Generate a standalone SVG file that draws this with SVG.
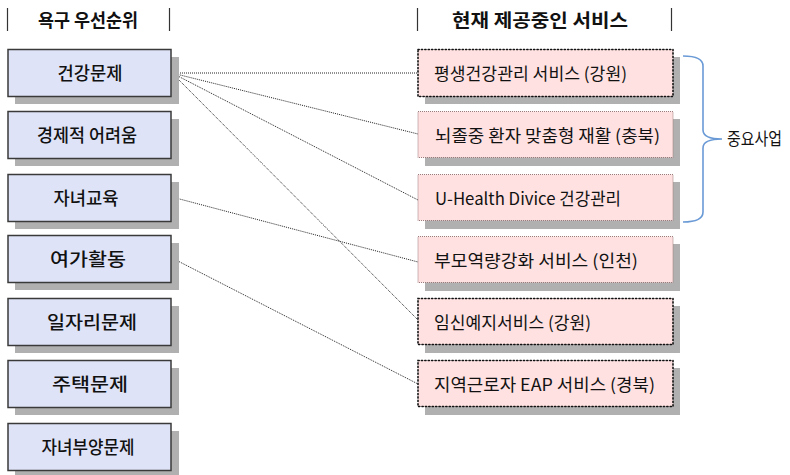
<svg xmlns="http://www.w3.org/2000/svg" width="790" height="475" viewBox="0 0 790 475">
<defs>
<style>
.bg{fill:#ffffff}
.shadow{fill:#b0b0b0}
.lbox{fill:#dfe3f7;stroke:#3a3a3a;stroke-width:1.5}
.rbox{fill:#ffe1e1}
.heavy{stroke:#111;stroke-width:1.6;stroke-dasharray:1.2 2.2;stroke-linecap:round}
.light{stroke:#9a7a7a;stroke-width:1;stroke-dasharray:1 1}
.bar{stroke:#333;stroke-width:1.2}
.hdr{font-family:"Noto Sans CJK KR","Noto Sans",sans-serif;font-size:18px;font-weight:bold;fill:#111}
.lt{font-family:"Noto Sans CJK KR","Noto Sans",sans-serif;font-size:18px;font-weight:500;fill:#111;text-anchor:middle}
.rt{font-family:"Noto Sans CJK KR","Noto Sans",sans-serif;font-size:17px;fill:#111}
.conn{stroke:#222;stroke-width:1;stroke-dasharray:1 1;fill:none}
.brace{stroke:#6a9ad6;stroke-width:1.6;fill:none}
</style>
</defs>
<rect class="bg" x="0" y="0" width="790" height="475"/>

<g id="headers">
<line class="bar" x1="7.5" y1="8" x2="7.5" y2="31"/>
<line class="bar" x1="169.5" y1="8" x2="169.5" y2="31"/>
<text class="hdr" x="88" y="26.5" text-anchor="middle" textLength="100" lengthAdjust="spacingAndGlyphs">욕구 우선순위</text>
<line class="bar" x1="417.5" y1="8" x2="417.5" y2="31"/>
<line class="bar" x1="671.5" y1="8" x2="671.5" y2="31"/>
<text class="hdr" x="540" y="26.5" text-anchor="middle" textLength="176" lengthAdjust="spacingAndGlyphs">현재  제공중인 서비스</text>
</g>

<g id="connectors">
<line class="conn" x1="172" y1="73" x2="418" y2="73"/>
<line class="conn" x1="172" y1="73" x2="418" y2="134"/>
<line class="conn" x1="172" y1="73" x2="418" y2="200"/>
<line class="conn" x1="172" y1="73" x2="418" y2="320"/>
<line class="conn" x1="172" y1="197" x2="418" y2="262"/>
<line class="conn" x1="172" y1="258" x2="418" y2="384"/>
</g>

<g id="need1"><rect class="shadow" x="15" y="57" width="164" height="47"/><rect class="lbox" x="8" y="49.5" width="163" height="47"/><text class="lt" x="90" y="80" textLength="65" lengthAdjust="spacingAndGlyphs">건강문제</text></g>
<g id="need2"><rect class="shadow" x="15" y="119" width="164" height="47"/><rect class="lbox" x="8" y="111.5" width="163" height="47"/><text class="lt" x="87" y="142" textLength="100" lengthAdjust="spacingAndGlyphs">경제적 어려움</text></g>
<g id="need3"><rect class="shadow" x="15" y="182" width="164" height="47"/><rect class="lbox" x="8" y="174.5" width="163" height="47"/><text class="lt" x="86" y="205" textLength="65" lengthAdjust="spacingAndGlyphs">자녀교육</text></g>
<g id="need4"><rect class="shadow" x="15" y="243" width="164" height="47"/><rect class="lbox" x="8" y="235.5" width="163" height="47"/><text class="lt" x="88" y="266" textLength="76" lengthAdjust="spacingAndGlyphs">여가활동</text></g>
<g id="need5"><rect class="shadow" x="15" y="306" width="164" height="47"/><rect class="lbox" x="8" y="298.5" width="163" height="47"/><text class="lt" x="92" y="329" textLength="90" lengthAdjust="spacingAndGlyphs">일자리문제</text></g>
<g id="need6"><rect class="shadow" x="15" y="368" width="164" height="47"/><rect class="lbox" x="8" y="360.5" width="163" height="47"/><text class="lt" x="90" y="391" textLength="76" lengthAdjust="spacingAndGlyphs">주택문제</text></g>
<g id="need7"><rect class="shadow" x="15" y="431" width="164" height="44"/><rect class="lbox" x="8" y="423.5" width="163" height="47"/><text class="lt" x="88" y="454" textLength="93" lengthAdjust="spacingAndGlyphs">자녀부양문제</text></g>

<g id="svc1"><rect class="shadow" x="425" y="57" width="255" height="47"/><rect class="rbox heavy" x="418" y="49.5" width="255" height="47"/><text class="rt" x="434" y="79.5" textLength="193" lengthAdjust="spacingAndGlyphs">평생건강관리 서비스 (강원)</text></g>
<g id="svc2"><rect class="shadow" x="425" y="119" width="255" height="47"/><rect class="rbox light" x="418" y="111.5" width="255" height="46"/><text class="rt" x="435" y="141.5" textLength="225" lengthAdjust="spacingAndGlyphs">뇌졸중 환자 맞춤형 재활 (충북)</text></g>
<g id="svc3"><rect class="shadow" x="425" y="182" width="255" height="47"/><rect class="rbox light" x="418" y="174.5" width="255" height="46"/><text class="rt" x="435" y="204.5" textLength="186" lengthAdjust="spacingAndGlyphs">U-Health Divice 건강관리</text></g>
<g id="svc4"><rect class="shadow" x="425" y="244" width="255" height="47"/><rect class="rbox light" x="418" y="236.5" width="255" height="46"/><text class="rt" x="434" y="266.5" textLength="204" lengthAdjust="spacingAndGlyphs">부모역량강화 서비스 (인천)</text></g>
<g id="svc5"><rect class="shadow" x="425" y="306" width="255" height="47"/><rect class="rbox heavy" x="418" y="298.5" width="255" height="46"/><text class="rt" x="434" y="328.5" textLength="157" lengthAdjust="spacingAndGlyphs">임신예지서비스 (강원)</text></g>
<g id="svc6"><rect class="shadow" x="425" y="368" width="255" height="47"/><rect class="rbox heavy" x="418" y="360.5" width="255" height="46"/><text class="rt" x="434" y="390.5" textLength="221" lengthAdjust="spacingAndGlyphs">지역근로자 EAP 서비스 (경북)</text></g>

<g id="brace">
<path class="brace" d="M683,56 Q703,56 703,66 L703,130 Q703,139 722,139 Q703,139 703,148 L703,212 Q703,222 683,222"/>
<text class="rt" x="727" y="145" textLength="55" lengthAdjust="spacingAndGlyphs">중요사업</text>
</g>
</svg>
